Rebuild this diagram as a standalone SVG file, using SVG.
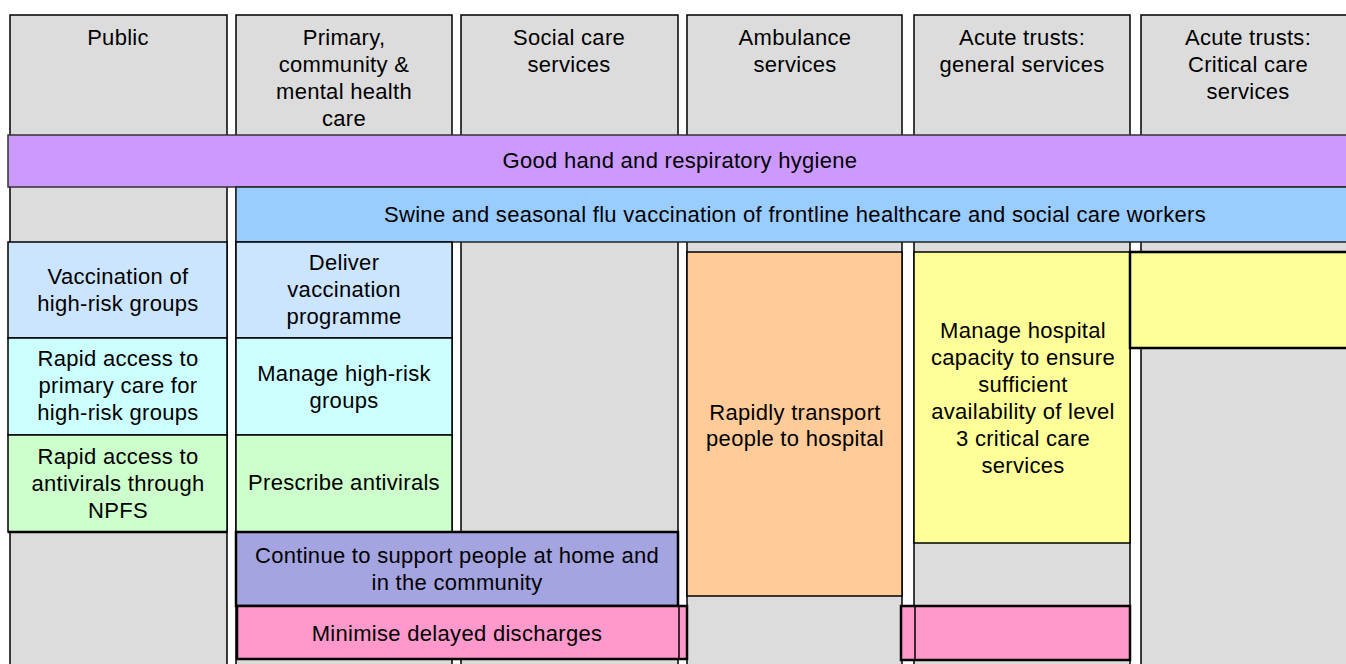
<svg xmlns="http://www.w3.org/2000/svg" width="1346" height="664" viewBox="0 0 1346 664">
<style>
text{font-family:"Liberation Sans",Arial,sans-serif;font-size:22px;fill:#000;text-anchor:middle;letter-spacing:0.3px}
.col{fill:#DCDCDC;stroke:#000;stroke-width:1.5}
.b{stroke:#000;stroke-width:1.5}
.bt{stroke:#000;stroke-width:2.5}
</style>
<rect width="1346" height="664" fill="#fff"/>
<g id="col-public"><rect class="col" x="10" y="15" width="217" height="660"/><text x="118" y="45">Public</text></g>
<g id="col-primary"><rect class="col" x="236" y="15" width="216" height="660"/><text x="344" y="45">Primary,</text><text x="344" y="72">community &amp;</text><text x="344" y="99">mental health</text><text x="344" y="126">care</text></g>
<g id="col-social"><rect class="col" x="461" y="15" width="217" height="660"/><text x="569" y="45">Social care</text><text x="569" y="72">services</text></g>
<g id="col-ambulance"><rect class="col" x="687" y="15" width="215" height="660"/><text x="795" y="45">Ambulance</text><text x="795" y="72">services</text></g>
<g id="col-acute-general"><rect class="col" x="914" y="15" width="216" height="660"/><text x="1022" y="45">Acute trusts:</text><text x="1022" y="72">general services</text></g>
<g id="col-acute-critical"><rect class="col" x="1141" y="15" width="216" height="660"/><text x="1248" y="45">Acute trusts:</text><text x="1248" y="72">Critical care</text><text x="1248" y="99">services</text></g>

<g id="hygiene"><rect x="8" y="135" width="1345" height="52" fill="#CC99FF" stroke="#333" stroke-width="1.5"/><text x="680" y="168">Good hand and respiratory hygiene</text></g>
<g id="vaccination-workers"><rect x="236" y="187" width="1115" height="55" fill="#99CCFF" stroke="#222" stroke-width="1.5"/><text x="795" y="222">Swine and seasonal flu vaccination of frontline healthcare and social care workers</text></g>

<g id="public-vaccination"><rect class="b" x="8" y="242" width="219" height="96" fill="#CCE5FF"/><text x="118" y="284">Vaccination of</text><text x="118" y="311">high-risk groups</text></g>
<g id="public-primary-access"><rect class="b" x="8" y="338" width="219" height="97" fill="#CCFFFF"/><text x="118" y="366">Rapid access to</text><text x="118" y="393">primary care for</text><text x="118" y="420">high-risk groups</text></g>
<g id="public-antivirals"><rect class="b" x="8" y="435" width="219" height="97" fill="#CCFFCC"/><line class="bt" x1="8" y1="532" x2="227" y2="532"/><text x="118" y="464">Rapid access to</text><text x="118" y="491">antivirals through</text><text x="118" y="518">NPFS</text></g>

<g id="primary-deliver"><rect class="b" x="236" y="242" width="216" height="96" fill="#CCE5FF"/><text x="344" y="270">Deliver</text><text x="344" y="297">vaccination</text><text x="344" y="324">programme</text></g>
<g id="primary-manage"><rect class="b" x="236" y="338" width="216" height="97" fill="#CCFFFF"/><text x="344" y="381">Manage high-risk</text><text x="344" y="408">groups</text></g>
<g id="primary-prescribe"><rect class="b" x="236" y="435" width="216" height="97" fill="#CCFFCC"/><text x="344" y="490">Prescribe antivirals</text></g>

<g id="continue-support"><rect class="bt" x="236" y="532" width="442" height="74" fill="#A4A4E0"/><text x="457" y="563">Continue to support people at home and</text><text x="457" y="590">in the community</text></g>
<g id="minimise-discharges"><rect class="bt" x="237" y="606" width="450" height="53" fill="#FF99CC"/><line class="b" x1="679" y1="606" x2="679" y2="659"/><text x="457" y="641">Minimise delayed discharges</text></g>

<g id="ambulance-transport"><rect class="b" x="687" y="252" width="215" height="344" fill="#FFCC99"/><text x="795" y="420">Rapidly transport</text><text x="795" y="446">people to hospital</text></g>

<g id="acute-capacity"><rect class="b" x="914" y="252" width="216" height="291" fill="#FFFF99"/><text x="1023" y="338">Manage hospital</text><text x="1023" y="365">capacity to ensure</text><text x="1023" y="392">sufficient</text><text x="1023" y="419">availability of level</text><text x="1023" y="446">3 critical care</text><text x="1023" y="473">services</text></g>
<g id="acute-discharges"><rect class="bt" x="901" y="606" width="229" height="54" fill="#FF99CC"/><line class="b" x1="915" y1="606" x2="915" y2="660"/></g>
<g id="critical-capacity"><rect class="bt" x="1130" y="252" width="222" height="96" fill="#FFFF99"/></g>
</svg>
